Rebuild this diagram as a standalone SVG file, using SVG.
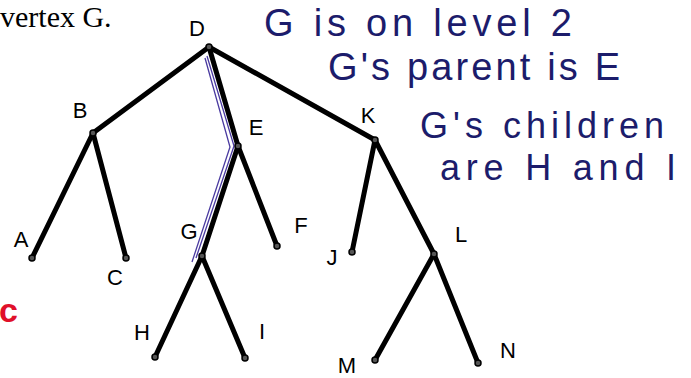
<svg xmlns="http://www.w3.org/2000/svg" width="691" height="378" viewBox="0 0 691 378">
<style>
.e{stroke:#000;stroke-width:5;stroke-linecap:round;fill:none}
.v{fill:#555;stroke:#000;stroke-width:1.5}
.lb{font-family:"Liberation Sans",Arial,sans-serif;font-size:22px;fill:#000;text-anchor:middle}
.hw{font-family:"Liberation Sans",Arial,sans-serif;fill:#1c1c6b}
.hl{stroke:#4a3aa0;stroke-width:1.3;fill:none}
</style>
<rect width="691" height="378" fill="#fff"/>
<text x="0" y="27" font-family="Liberation Serif,Times New Roman,serif" font-size="30" fill="#000">vertex G.</text>
<g id="connectors">
<line class="e" x1="209" y1="47" x2="93" y2="133"/>
<line class="e" x1="209" y1="47" x2="238" y2="146"/>
<line class="e" x1="209" y1="47" x2="375" y2="140"/>
<line class="e" x1="93" y1="133" x2="32" y2="258"/>
<line class="e" x1="93" y1="133" x2="126" y2="258"/>
<line class="e" x1="238" y1="146" x2="202" y2="256"/>
<line class="e" x1="238" y1="146" x2="277" y2="246"/>
<line class="e" x1="375" y1="140" x2="352" y2="252"/>
<line class="e" x1="375" y1="140" x2="434" y2="254"/>
<line class="e" x1="202" y1="256" x2="155" y2="357"/>
<line class="e" x1="202" y1="256" x2="245" y2="358"/>
<line class="e" x1="434" y1="254" x2="375" y2="360"/>
<line class="e" x1="434" y1="254" x2="478" y2="363"/>
</g>
<g id="highlight">
<path class="hl" d="M205 58 L230 147 L192 262"/>
<path class="hl" d="M207 56 L234 146 L196 258"/>
</g>
<g id="D"><circle class="v" cx="209" cy="47" r="3"/><text class="lb" x="197" y="36">D</text></g>
<g id="B"><circle class="v" cx="93" cy="133" r="3"/><text class="lb" x="80" y="118">B</text></g>
<g id="E"><circle class="v" cx="238" cy="146" r="3"/><text class="lb" x="256" y="135">E</text></g>
<g id="K"><circle class="v" cx="375" cy="140" r="3"/><text class="lb" x="368" y="123">K</text></g>
<g id="A"><circle class="v" cx="32" cy="258" r="3"/><text class="lb" x="21" y="247">A</text></g>
<g id="C"><circle class="v" cx="126" cy="258" r="3"/><text class="lb" x="115" y="285">C</text></g>
<g id="G"><circle class="v" cx="202" cy="256" r="3"/><text class="lb" x="189" y="239">G</text></g>
<g id="F"><circle class="v" cx="277" cy="246" r="3"/><text class="lb" x="301" y="233">F</text></g>
<g id="J"><circle class="v" cx="352" cy="252" r="3"/><text class="lb" x="332" y="265">J</text></g>
<g id="L"><circle class="v" cx="434" cy="254" r="3"/><text class="lb" x="461" y="242">L</text></g>
<g id="H"><circle class="v" cx="155" cy="357" r="3"/><text class="lb" x="142" y="340">H</text></g>
<g id="I"><circle class="v" cx="245" cy="358" r="3"/><text class="lb" x="262" y="339">I</text></g>
<g id="M"><circle class="v" cx="375" cy="360" r="3"/><text class="lb" x="347" y="373">M</text></g>
<g id="N"><circle class="v" cx="478" cy="363" r="3"/><text class="lb" x="508" y="358">N</text></g>
<text class="hw" x="264" y="36" style="font-size:38px" textLength="308">G is on level 2</text>
<text class="hw" x="328" y="80" style="font-size:38px" textLength="292">G's parent is E</text>
<text class="hw" x="420" y="138" style="font-size:36px" textLength="244">G's children</text>
<text class="hw" x="440" y="180" style="font-size:36px" textLength="236">are H and I</text>
<text x="-1" y="322" font-family="Liberation Sans,sans-serif" font-size="34" font-weight="bold" fill="#e0102a">c</text>
</svg>
